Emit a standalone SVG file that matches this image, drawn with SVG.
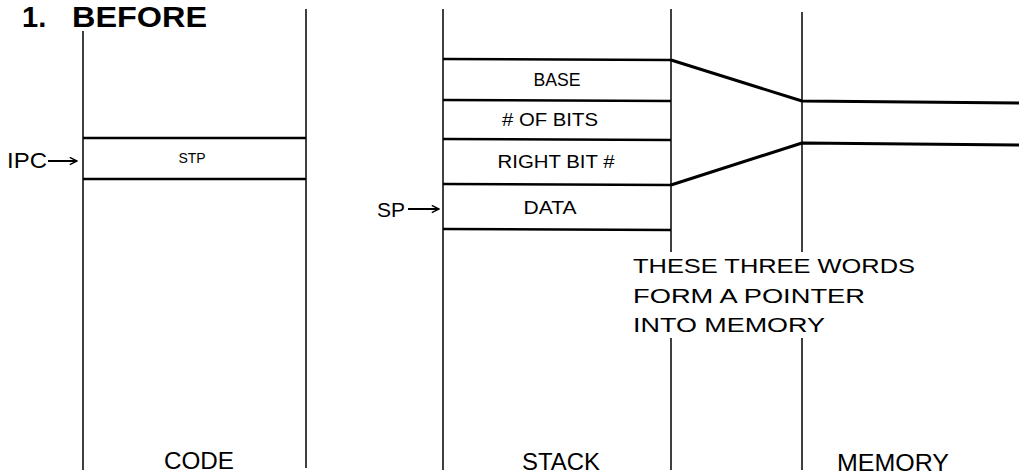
<svg xmlns="http://www.w3.org/2000/svg" width="1019" height="476" viewBox="0 0 1019 476">
<defs>
<style>
.col{stroke:#000;stroke-width:1.5;fill:none}
.row{stroke:#000;stroke-width:2.6;fill:none}
.ptr{stroke:#000;stroke-width:3;fill:none;stroke-linejoin:round}
.arw{stroke:#000;stroke-width:2;fill:none}
.t{font-family:"Liberation Sans",Arial,sans-serif;fill:#000}
.ttl{font-family:"Liberation Sans",Arial,sans-serif;font-weight:bold;font-size:29px;fill:#000}
</style>
<marker id="ah" viewBox="0 0 10 10" refX="9" refY="5" markerWidth="9" markerHeight="9" markerUnits="userSpaceOnUse" orient="auto">
<path d="M1,1 L9,5 L1,9" fill="none" stroke="#000" stroke-width="1.6"/>
</marker>
</defs>
<rect width="1019" height="476" fill="#fff"/>
<g id="title"><text class="ttl" x="22" y="27">1.<tspan x="72" textLength="135" lengthAdjust="spacingAndGlyphs">BEFORE</tspan></text></g>
<g id="code">
<line class="col" x1="83" y1="31" x2="83" y2="470"/>
<line class="col" x1="306" y1="9" x2="306" y2="468"/>
<line class="row" x1="83" y1="138" x2="306" y2="138"/>
<line class="row" x1="83" y1="179" x2="306" y2="179"/>
<text class="t" x="192" y="163" font-size="14" text-anchor="middle">STP</text>
<text class="t" x="199" y="469" font-size="23" text-anchor="middle" textLength="70" lengthAdjust="spacingAndGlyphs">CODE</text>
</g>
<g id="ipc"><text class="t" x="7" y="168" font-size="22" textLength="40" lengthAdjust="spacingAndGlyphs">IPC</text></g>
<g id="sp"><text class="t" x="377" y="217" font-size="21">SP</text></g>
<g id="stack">
<line class="col" x1="443" y1="9" x2="443" y2="470"/>
<line class="col" x1="671" y1="9" x2="671" y2="252"/>
<line class="col" x1="671" y1="338" x2="671" y2="470"/>
<line class="row" x1="443" y1="59" x2="671" y2="60"/>
<line class="row" x1="443" y1="100" x2="671" y2="101"/>
<line class="row" x1="443" y1="139" x2="671" y2="140"/>
<line class="row" x1="443" y1="184" x2="671" y2="185"/>
<line class="row" x1="443" y1="229" x2="671" y2="230"/>
<text class="t" x="557" y="86" font-size="18" text-anchor="middle" textLength="47" lengthAdjust="spacingAndGlyphs">BASE</text>
<text class="t" x="550" y="126" font-size="18" text-anchor="middle" textLength="96" lengthAdjust="spacingAndGlyphs"># OF BITS</text>
<text class="t" x="556" y="168" font-size="18" text-anchor="middle" textLength="117" lengthAdjust="spacingAndGlyphs">RIGHT BIT #</text>
<text class="t" x="550" y="214" font-size="18" text-anchor="middle" textLength="53" lengthAdjust="spacingAndGlyphs">DATA</text>
<text class="t" x="561" y="470" font-size="23" text-anchor="middle" textLength="78" lengthAdjust="spacingAndGlyphs">STACK</text>
</g>
<g id="memory">
<line class="col" x1="802" y1="12" x2="802" y2="252"/>
<line class="col" x1="802" y1="338" x2="802" y2="470"/>
<text class="t" x="893" y="471" font-size="23" text-anchor="middle" textLength="112" lengthAdjust="spacingAndGlyphs">MEMORY</text>
</g>
<g id="note">
<text class="t" x="633" y="273" font-size="21" textLength="282" lengthAdjust="spacingAndGlyphs">THESE THREE WORDS</text>
<text class="t" x="633" y="303" font-size="21" textLength="232" lengthAdjust="spacingAndGlyphs">FORM A POINTER</text>
<text class="t" x="633" y="332" font-size="21" textLength="192" lengthAdjust="spacingAndGlyphs">INTO MEMORY</text>
</g>
<g id="connectors">
<polyline class="ptr" points="671,60 802,101 1019,103"/>
<polyline class="ptr" points="671,185 802,143 1019,145"/>
<line class="arw" x1="48" y1="161" x2="77" y2="161" marker-end="url(#ah)"/>
<line class="arw" x1="408" y1="209" x2="439" y2="209" marker-end="url(#ah)"/>
</g>
</svg>
